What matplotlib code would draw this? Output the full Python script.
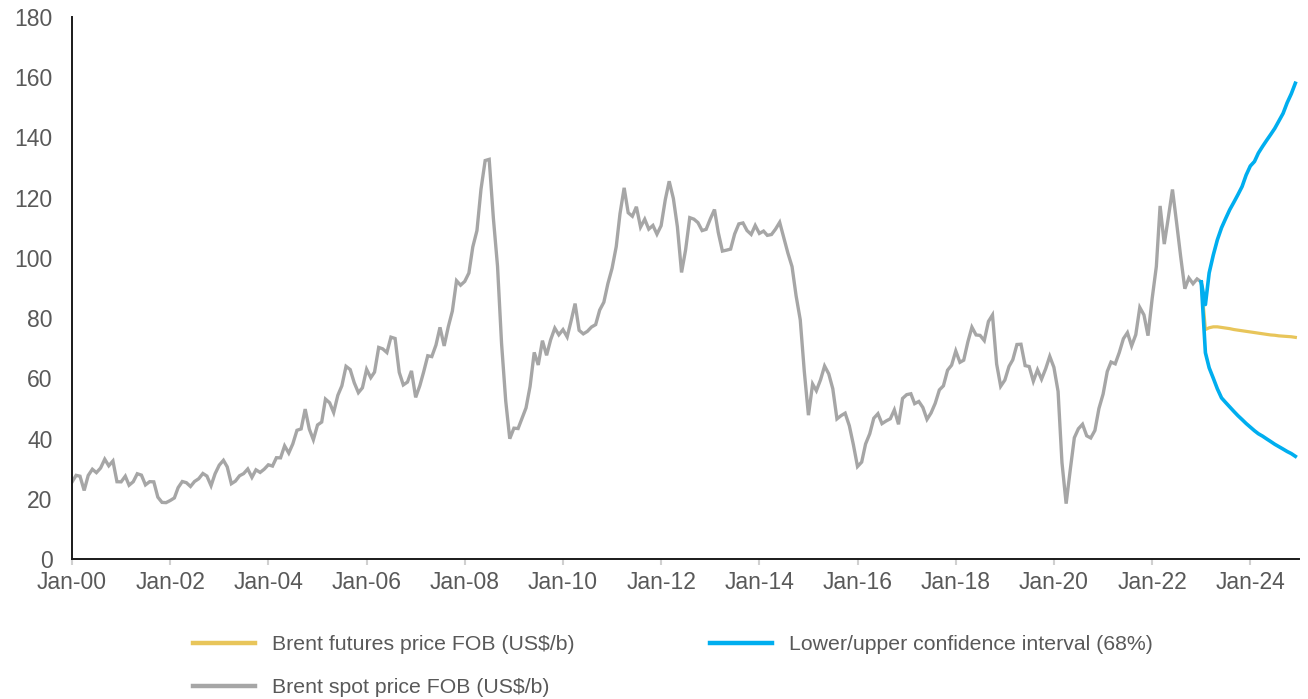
import matplotlib
matplotlib.use("Agg")
import matplotlib.pyplot as plt
import matplotlib.dates as mdates
import pandas as pd

plt.rcParams['font.family'] = ['Liberation Sans', 'DejaVu Sans']

# Brent spot price, monthly, Jan-2000 .. Jan-2023
spot = [
    25.51, 27.78, 27.49, 22.76, 27.74, 29.80, 28.68, 30.20, 33.14, 30.96, 32.55, 25.66,
    25.62, 27.50, 24.50, 25.66, 28.31, 27.85, 24.61, 25.68, 25.62, 20.54, 18.80, 18.71,
    19.42, 20.28, 23.70, 25.73, 25.35, 24.08, 25.74, 26.65, 28.40, 27.54, 24.34, 28.33,
    31.18, 32.77, 30.61, 25.00, 25.86, 27.65, 28.35, 29.89, 27.11, 29.61, 28.75, 29.81,
    31.28, 30.86, 33.63, 33.59, 37.57, 35.18, 38.22, 42.74, 43.20, 49.78, 43.11, 39.60,
    44.51, 45.48, 53.10, 51.88, 48.65, 54.35, 57.52, 63.98, 62.91, 58.54, 55.24, 56.86,
    62.99, 60.21, 62.06, 70.26, 69.78, 68.56, 73.67, 73.23, 61.96, 57.81, 58.76, 62.47,
    53.68, 57.56, 62.05, 67.49, 67.21, 71.05, 76.93, 70.76, 77.17, 82.34, 92.41, 90.93,
    92.18, 94.99, 103.64, 109.07, 122.80, 132.32, 132.72, 113.24, 97.23, 71.58, 52.45, 39.95,
    43.44, 43.32, 46.54, 50.18, 57.30, 68.61, 64.44, 72.51, 67.65, 72.77, 76.66, 74.46,
    76.17, 73.75, 78.83, 84.82, 75.95, 74.76, 75.58, 77.04, 77.84, 82.67, 85.28, 91.45,
    96.52, 103.72, 114.64, 123.26, 114.99, 113.83, 116.97, 110.22, 112.83, 109.55, 110.77, 107.87,
    110.69, 119.33, 125.45, 119.75, 110.34, 95.16, 102.62, 113.36, 112.86, 111.71, 109.06, 109.49,
    112.96, 116.05, 108.47, 102.25, 102.56, 102.92, 107.93, 111.28, 111.60, 109.08, 107.79, 110.76,
    108.12, 108.90, 107.48, 107.76, 109.54, 111.80, 106.77, 101.61, 97.09, 87.43, 79.44, 62.34,
    47.76, 58.10, 55.89, 59.52, 64.08, 61.48, 56.56, 46.52, 47.62, 48.43, 44.27, 38.01,
    30.70, 32.18, 38.21, 41.58, 46.74, 48.25, 44.95, 45.84, 46.57, 49.52, 44.73, 53.31,
    54.58, 54.87, 51.59, 52.31, 50.33, 46.37, 48.48, 51.70, 56.15, 57.51, 62.71, 64.37,
    69.08, 65.32, 66.02, 72.11, 76.98, 74.41, 74.25, 72.53, 78.89, 81.03, 64.75, 57.36,
    59.41, 63.96, 66.14, 71.23, 71.32, 64.22, 63.92, 59.04, 62.83, 59.71, 63.21, 67.31,
    63.65, 55.66, 32.01, 18.38, 29.38, 40.27, 43.24, 44.74, 40.91, 40.19, 42.69, 49.99,
    54.77, 62.28, 65.41, 64.81, 68.53, 73.16, 75.17, 70.75, 74.49, 83.54, 81.05, 74.17,
    86.51, 97.13, 117.25, 104.58, 113.34, 122.71, 111.93, 100.45, 89.76, 93.33, 91.42, 93.00,
    92.00,
]

# forecasts, monthly, Jan-2023 .. Dec-2024 (start at last spot value)
futures = [
    92.0, 76.2, 76.8, 77.1, 77.1, 76.9, 76.7, 76.5, 76.2, 76.0, 75.8, 75.6,
    75.4, 75.2, 75.0, 74.8, 74.6, 74.4, 74.3, 74.1, 74.0, 73.9, 73.8, 73.6,
]
upper = [
    92.0, 84.5, 95.0, 101.0, 106.0, 110.0, 113.0, 116.0, 118.5, 121.0, 123.7, 127.5,
    130.5, 132.0, 134.8, 137.0, 139.0, 141.0, 143.0, 145.5, 148.0, 151.5, 154.5, 158.0,
]
lower = [
    92.0, 68.5, 63.5, 60.0, 56.5, 53.5, 52.0, 50.5, 49.0, 47.6, 46.3, 45.0,
    43.8, 42.6, 41.6, 40.8, 39.9, 39.0, 38.1, 37.3, 36.5, 35.7, 35.0, 34.1,
]

spot_dates = pd.date_range("2000-01-01", periods=len(spot), freq="MS")
fc_dates = pd.date_range("2023-01-01", periods=len(futures), freq="MS")

GREY = "#a6a6a6"
GOLD = "#e8c55a"
BLUE = "#00aeef"
TXT = "#595959"

fig = plt.figure(figsize=(13.08, 6.99), dpi=100)
ax = fig.add_axes([0.055, 0.2003, 0.9385, 0.7754])

l_spot, = ax.plot(spot_dates, spot, color=GREY, lw=2.4, solid_joinstyle="miter",
                  label="Brent spot price FOB (US$/b)")
l_fut, = ax.plot(fc_dates, futures, color=GOLD, lw=2.3,
                 label="Brent futures price FOB (US$/b)")
l_ci, = ax.plot(fc_dates, upper, color=BLUE, lw=2.6,
                label="Lower/upper confidence interval (68%)")
ax.plot(fc_dates, lower, color=BLUE, lw=2.6)

ax.set_ylim(0, 180)
ax.set_yticks(range(0, 181, 20))
ax.set_xlim(pd.Timestamp("2000-01-01"), pd.Timestamp("2025-01-01"))
ax.set_xticks(pd.date_range("2000-01-01", "2024-01-01", freq="24MS"))
ax.xaxis.set_major_formatter(mdates.DateFormatter("%b-%y"))

for s in ["top", "right"]:
    ax.spines[s].set_visible(False)
for s in ["left", "bottom"]:
    ax.spines[s].set_color("#1a1a1a")
    ax.spines[s].set_linewidth(1.4)

ax.tick_params(axis="x", length=4, width=1.5, color="#d0d0d0", pad=5,
               labelsize=16.5, labelcolor=TXT)
ax.tick_params(axis="y", length=0, pad=14, labelsize=16.5, labelcolor=TXT)

leg = fig.legend(handles=[l_fut, l_spot, l_ci], ncol=2, loc="upper left",
                 bbox_to_anchor=(0.1476, 0.0915), frameon=False, fontsize=15.3,
                 handlelength=2.9, handletextpad=0.8, columnspacing=6.4,
                 labelspacing=1.15, borderpad=0, borderaxespad=0)
for t in leg.get_texts():
    t.set_color(TXT)
for h in leg.get_lines():
    h.set_linewidth(3.2)

fig.savefig("out.png", dpi=100)
